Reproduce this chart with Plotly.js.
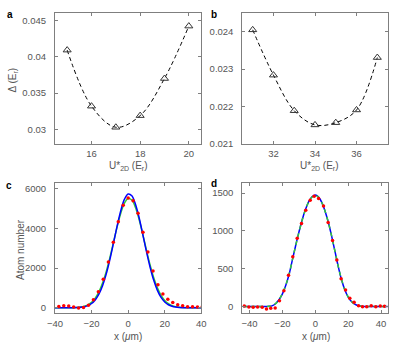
<!DOCTYPE html>
<html>
<head>
<meta charset="utf-8">
<script src="https://cdn.plot.ly/plotly-3.0.1.min.js"></script>
<style>
  body { margin: 0; padding: 0; background: #fff; }
  #plot { width: 415px; height: 347px; }
</style>
</head>
<body>
<div id="plot"></div>
<script>
// panel a: gap vs lattice depth
let a_u = [15, 16, 17, 18, 19, 20];
let a_gap = [0.0409, 0.0332, 0.0303, 0.0319, 0.0370, 0.0442];

// panel b
let b_u = [31, 32, 33, 34, 35, 36, 37];
let b_gap = [0.02405, 0.02284, 0.02189, 0.02151, 0.02157, 0.02191, 0.02331];

// panel c: measured profile (red) and two fits (blue, green)
let c_x = [-37.9, -35.2, -32.5, -29.8, -27.1, -24.4, -21.7, -19.0, -16.3, -13.6,
    -10.8, -8.1, -5.4, -2.7, 0, 2.7, 5.4, 8.1, 10.8, 13.6,
    16.3, 19.0, 21.7, 24.4, 27.1, 29.8, 32.5, 35.2, 37.9, 40.5];
let c_atoms = [65, 100, 85, 35, -15, 15, 135, 400, 815, 1435,
    2315, 3300, 4335, 5165, 5535, 5400, 4765, 3815, 2815, 1850,
    1165, 700, 435, 265, 150, 100, 50, 50, 35, 35];
let c_fit_x = [-40, -35, -30, -28, -26, -24, -22, -20, -18, -16, -14, -12, -10, -8, -6, -4, -2,
    0, 2, 4, 6, 8, 10, 12, 14, 16, 18, 20, 22, 24, 26, 28, 30, 35, 40];
let c_blue = [0, 0, 4, 10, 24, 53, 110, 216, 398, 686, 1113, 1697, 2430, 3270, 4134, 4909, 5476,
    5739, 5650, 5225, 4541, 3705, 2841, 2047, 1384, 879, 525, 295, 155, 77, 36, 16, 6, 0, 0];
let c_green = [0, 1, 8, 17, 38, 78, 152, 281, 488, 800, 1244, 1823, 2525, 3308, 4090, 4781, 5281,
    5510, 5432, 5062, 4453, 3704, 2910, 2160, 1515, 1004, 628, 372, 208, 110, 55, 26, 12, 2, 0];

// panel d
let d_x = [-43.2, -40.4, -37.8, -35.1, -32.3, -29.7, -27.1, -24.4, -21.8, -19.1,
    -16.3, -13.7, -11.0, -8.4, -5.8, -3.1, -0.7, 2.0, 5.0, 7.8,
    10.5, 13.1, 15.7, 18.4, 21.0, 23.6, 26.3, 28.7, 31.3, 34.0,
    36.8, 39.5, 42.1];
let d_atoms = [7, -7, -11, -7, -11, -33, -24, -20, 77, 209,
    412, 657, 904, 1098, 1274, 1406, 1459, 1428, 1330, 1111,
    874, 614, 367, 218, 108, 55, 11, -3, -3, 11,
    -3, 7, 3];
let d_fit_x = [-44, -35, -30, -28, -26, -24, -22, -20, -18, -16, -14, -12, -10, -8, -6, -4, -2,
    0, 2, 4, 6, 8, 10, 12, 14, 16, 18, 20, 22, 24, 26, 28, 30, 35, 44];
let d_blue = [0, 0, 0, 2, 12, 40, 92, 168, 278, 420, 610, 800, 980, 1145, 1282, 1388, 1452,
    1475, 1448, 1375, 1258, 1108, 925, 725, 525, 350, 218, 125, 65, 30, 10, 2, 0, 0, 0];
let d_green = [0, 0, 0, 3, 13, 42, 94, 170, 280, 422, 610, 800, 978, 1142, 1280, 1385, 1448,
    1470, 1445, 1373, 1257, 1108, 926, 727, 528, 353, 220, 127, 66, 31, 11, 3, 0, 0, 0];

const GREY = "#7f7f7f";
const TXT = "#555555";
const FONT = "Liberation Sans, Arial, sans-serif";

function axis(domain, anchor, range, tickvals, ticktext) {
    let ax = {
        domain: domain,
        anchor: anchor,
        range: range,
        tickmode: "array",
        tickvals: tickvals,
        showline: true,
        linecolor: GREY,
        linewidth: 1,
        mirror: "ticks",
        ticks: "inside",
        ticklen: 3,
        tickcolor: GREY,
        showgrid: false,
        zeroline: false,
        ticklabelstandoff: ticktext === undefined && anchor[0] === "y" ? 1 : 6,
        tickfont: { family: FONT, size: 9.5, color: TXT },
    };
    if (ticktext) ax.ticktext = ticktext;
    return ax;
}

let tri = { symbol: "triangle-up-open", size: 7, color: "#333333", line: { width: 1 } };
let dashline = { color: "#000000", width: 1, dash: "4px,3px", shape: "spline" };
let dots = { symbol: "circle", size: 3.5, color: "#ff0000" };

let traces = [
    { x: a_u, y: a_gap, xaxis: "x", yaxis: "y", mode: "lines+markers", marker: tri, line: dashline },
    { x: b_u, y: b_gap, xaxis: "x2", yaxis: "y2", mode: "lines+markers", marker: tri, line: dashline },
    { x: c_fit_x, y: c_green, xaxis: "x3", yaxis: "y3", mode: "lines",
      line: { color: "#33cc33", width: 1.5, shape: "spline" } },
    { x: c_fit_x, y: c_blue, xaxis: "x3", yaxis: "y3", mode: "lines",
      line: { color: "#0000ff", width: 1.5, shape: "spline" } },
    { x: c_x, y: c_atoms, xaxis: "x3", yaxis: "y3", mode: "markers", marker: dots },
    { x: d_fit_x, y: d_blue, xaxis: "x4", yaxis: "y4", mode: "lines",
      line: { color: "#0000ff", width: 1.5, shape: "spline" } },
    { x: d_fit_x, y: d_green, xaxis: "x4", yaxis: "y4", mode: "lines",
      line: { color: "#33cc33", width: 1.5, dash: "4px,4px", shape: "spline" } },
    { x: d_x, y: d_atoms, xaxis: "x4", yaxis: "y4", mode: "markers", marker: dots },
];

function label(txt, x, y) {
    return { text: "<b>" + txt + "</b>", x: x / 415, y: 1 - y / 347, xref: "paper", yref: "paper",
        showarrow: false, xanchor: "left", yanchor: "middle",
        font: { family: FONT, size: 10, color: "#000" } };
}
function title(txt, x, y, angle) {
    return { text: txt, x: x / 415, y: 1 - y / 347, xref: "paper", yref: "paper",
        showarrow: false, xanchor: "center", yanchor: "middle", textangle: angle || 0,
        font: { family: FONT, size: 10, color: TXT } };
}

let layout = {
    width: 415,
    height: 347,
    margin: { l: 0, r: 0, t: 0, b: 0 },
    paper_bgcolor: "#ffffff",
    plot_bgcolor: "#ffffff",
    showlegend: false,
    xaxis: axis([55 / 415, 201 / 415], "y", [14.5, 20.5], [16, 18, 20]),
    yaxis: axis([1 - 144 / 347, 1 - 13 / 347], "x", [0.028, 0.046],
        [0.03, 0.035, 0.04, 0.045], ["0.03", "0.035", "0.04", "0.045"]),
    xaxis2: axis([242.3 / 415, 387.7 / 415], "y2", [30.5, 37.5], [32, 34, 36]),
    yaxis2: axis([1 - 144 / 347, 1 - 13 / 347], "x2", [0.021, 0.0245],
        [0.021, 0.022, 0.023, 0.024], ["0.021", "0.022", "0.023", "0.024"]),
    xaxis3: axis([55 / 415, 201.3 / 415], "y3", [-40, 40], [-40, -20, 0, 20, 40]),
    yaxis3: axis([1 - 313.3 / 347, 1 - 183.3 / 347], "x3", [-277, 6277], [0, 2000, 4000, 6000],
        ["0", "2000", "4000", "6000"]),
    xaxis4: axis([242.3 / 415, 388.3 / 415], "y4", [-44.4, 44.4], [-40, -20, 0, 20, 40]),
    yaxis4: axis([1 - 313.3 / 347, 1 - 183.3 / 347], "x4", [-90, 1630], [0, 500, 1000, 1500],
        ["0", "500", "1000", "1500"]),
    annotations: [
        label("a", 5, 14), label("b", 209, 14), label("c", 4, 185), label("d", 209, 183),
        title("Δ (E<sub>r</sub>)", 12.5, 80, -90),
        title("U*<sub>2D</sub> (E<sub>r</sub>)", 128, 166),
        title("U*<sub>2D</sub> (E<sub>r</sub>)", 319, 166),
        title("Atom number", 20, 250, -90),
        title("x (<i>μ</i>m)", 128, 336),
        title("x (<i>μ</i>m)", 316, 336),
    ],
};

Plotly.newPlot("plot", traces, layout, { staticPlot: true, displayModeBar: false });
</script>
</body>
</html>
